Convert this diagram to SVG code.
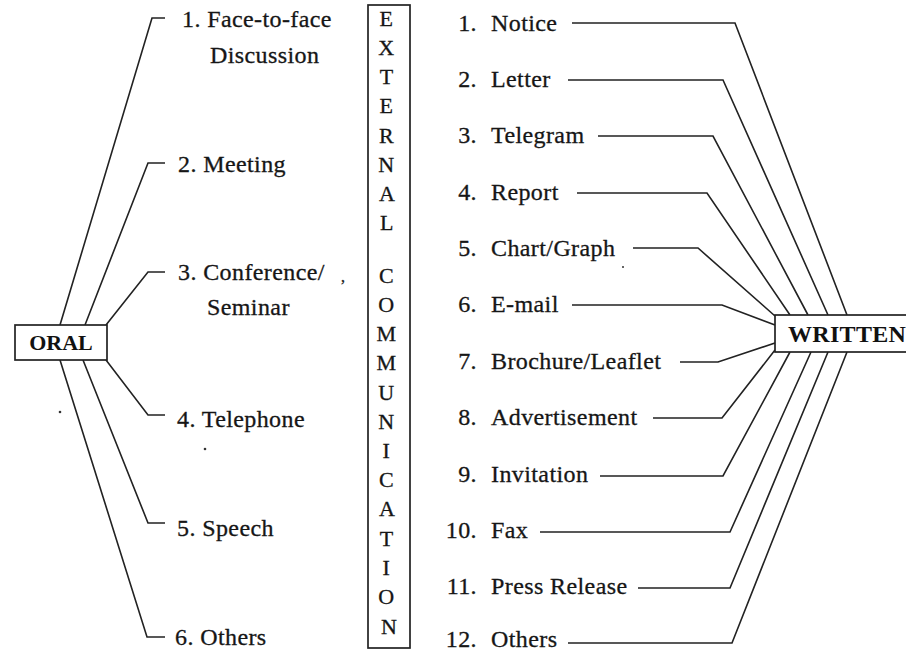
<svg xmlns="http://www.w3.org/2000/svg" width="906" height="651" viewBox="0 0 906 651">
  <style>
    .bg { fill: #ffffff; }
    .box { fill: #ffffff; stroke: #222; stroke-width: 1.7; }
    .link { fill: none; stroke: #222; stroke-width: 1.6; stroke-linejoin: miter; }
    .lbl { font-family: "Liberation Serif", "Times New Roman", serif; font-size: 24px; fill: #161616; stroke: #161616; stroke-width: 0.3; letter-spacing: 0.4px; }
    .num { text-anchor: end; }
    .head { font-family: "Liberation Serif", "Times New Roman", serif; font-size: 22px; font-weight: bold; fill: #111; }
    .col { font-family: "Liberation Serif", "Times New Roman", serif; font-size: 22px; fill: #161616; stroke: #161616; stroke-width: 0.3; text-anchor: middle; }
    .speck { fill: #333; }
  </style>
  <rect class="bg" x="0" y="0" width="906" height="651"/>

  <!-- connectors -->
  <g id="connectors">
    <!-- oral branches -->
    <path class="link" d="M60,325 L152,18 H165"/>
    <path class="link" d="M85,325 L148,163 H165"/>
    <path class="link" d="M106,325 L148,272 H165"/>
    <path class="link" d="M106,360 L148,415 H165"/>
    <path class="link" d="M83,360 L148,523 H165"/>
    <path class="link" d="M60,360 L147,637 H165"/>
    <!-- written branches -->
    <path class="link" d="M572,23 H735 L847,315"/>
    <path class="link" d="M568,80 H723 L828,315"/>
    <path class="link" d="M598,136 H713 L808,315"/>
    <path class="link" d="M577,193 H707 L790,315"/>
    <path class="link" d="M633,248 H698 L775,316"/>
    <path class="link" d="M572,305 H722 L775,325"/>
    <path class="link" d="M680,362 H718 L775,343"/>
    <path class="link" d="M653,418 H722 L775,350"/>
    <path class="link" d="M600,476 H723 L790,352"/>
    <path class="link" d="M540,532 H730 L811,352"/>
    <path class="link" d="M638,588 H730 L828,352"/>
    <path class="link" d="M568,643 H732 L847,352"/>
  </g>

  <!-- left hub -->
  <g id="oral">
    <rect class="box" x="15" y="325" width="92" height="35"/>
    <text class="head" x="61" y="350" text-anchor="middle">ORAL</text>
  </g>

  <!-- right hub -->
  <g id="written">
    <rect class="box" x="775" y="315" width="140" height="37"/>
    <text class="head" x="788" y="342" style="font-size:24px;letter-spacing:0.3px">WRITTEN</text>
  </g>

  <!-- central title column -->
  <g id="external-communication">
    <rect class="box" x="368" y="5" width="42" height="643"/>
    <text class="col">
      <tspan x="389" y="26">E</tspan>
      <tspan x="389" y="55">X</tspan>
      <tspan x="389" y="84">T</tspan>
      <tspan x="389" y="113">E</tspan>
      <tspan x="389" y="143">R</tspan>
      <tspan x="389" y="172">N</tspan>
      <tspan x="389" y="201">A</tspan>
      <tspan x="389" y="230">L</tspan>
      <tspan x="389" y="283">C</tspan>
      <tspan x="389" y="312">O</tspan>
      <tspan x="389" y="341">M</tspan>
      <tspan x="389" y="370">M</tspan>
      <tspan x="389" y="400">U</tspan>
      <tspan x="389" y="429">N</tspan>
      <tspan x="389" y="458">I</tspan>
      <tspan x="389" y="487">C</tspan>
      <tspan x="389" y="516">A</tspan>
      <tspan x="389" y="546">T</tspan>
      <tspan x="389" y="575">I</tspan>
      <tspan x="389" y="604">O</tspan>
      <tspan x="389" y="634">N</tspan>
    </text>
  </g>

  <!-- oral items -->
  <g id="oral-1"><text class="lbl" x="182" y="27">1. Face-to-face</text><text class="lbl" x="210" y="63">Discussion</text></g>
  <g id="oral-2"><text class="lbl" x="178" y="172">2. Meeting</text></g>
  <g id="oral-3"><text class="lbl" x="178" y="280">3. Conference/</text><text class="lbl" x="207" y="315">Seminar</text><text class="lbl" x="341" y="282" style="font-size:16px">,</text></g>
  <g id="oral-4"><text class="lbl" x="177" y="427">4. Telephone</text></g>
  <g id="oral-5"><text class="lbl" x="177" y="536">5. Speech</text></g>
  <g id="oral-6"><text class="lbl" x="175" y="645">6. Others</text></g>

  <!-- written items -->
  <g id="written-1"><text class="lbl num" x="477" y="31">1.</text><text class="lbl" x="491" y="31">Notice</text></g>
  <g id="written-2"><text class="lbl num" x="477" y="87">2.</text><text class="lbl" x="491" y="87">Letter</text></g>
  <g id="written-3"><text class="lbl num" x="477" y="143">3.</text><text class="lbl" x="491" y="143">Telegram</text></g>
  <g id="written-4"><text class="lbl num" x="477" y="200">4.</text><text class="lbl" x="491" y="200">Report</text></g>
  <g id="written-5"><text class="lbl num" x="477" y="256">5.</text><text class="lbl" x="491" y="256">Chart/Graph</text></g>
  <g id="written-6"><text class="lbl num" x="477" y="312">6.</text><text class="lbl" x="491" y="312">E-mail</text></g>
  <g id="written-7"><text class="lbl num" x="477" y="369">7.</text><text class="lbl" x="491" y="369">Brochure/Leaflet</text></g>
  <g id="written-8"><text class="lbl num" x="477" y="425">8.</text><text class="lbl" x="491" y="425">Advertisement</text></g>
  <g id="written-9"><text class="lbl num" x="477" y="482">9.</text><text class="lbl" x="491" y="482">Invitation</text></g>
  <g id="written-10"><text class="lbl num" x="477" y="538">10.</text><text class="lbl" x="491" y="538">Fax</text></g>
  <g id="written-11"><text class="lbl num" x="477" y="594">11.</text><text class="lbl" x="491" y="594">Press Release</text></g>
  <g id="written-12"><text class="lbl num" x="477" y="647">12.</text><text class="lbl" x="491" y="647">Others</text></g>

  <!-- print specks -->
  <circle class="speck" cx="60" cy="412" r="1.3"/>
  <circle class="speck" cx="205" cy="449" r="1.3"/>
  <circle class="speck" cx="623" cy="267" r="1"/>
</svg>
